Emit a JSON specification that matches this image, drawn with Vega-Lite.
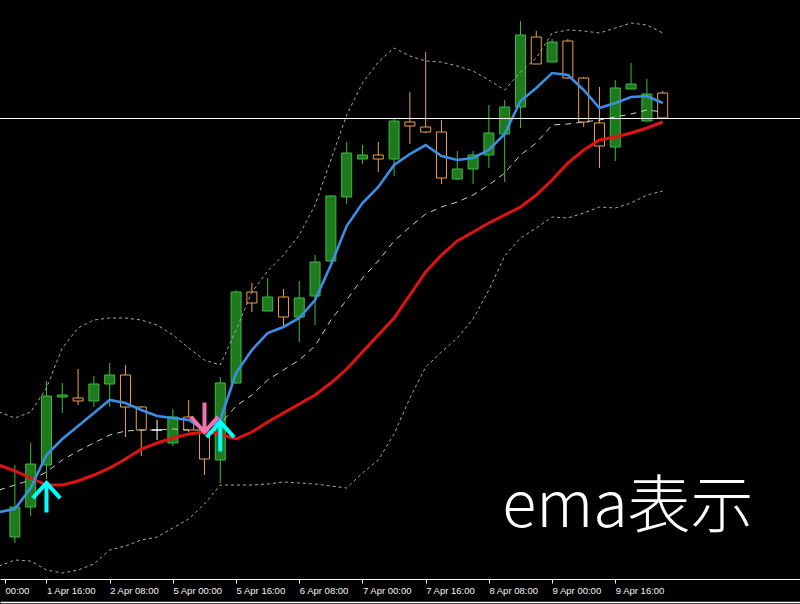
{
  "$schema": "https://vega.github.io/schema/vega-lite/v6.json",
  "width": 800,
  "height": 579,
  "autosize": {"type": "none"},
  "padding": {"left": 0, "top": 0, "right": 0, "bottom": 25},
  "background": "#000000",
  "config": {"view": {"stroke": null}},
  "datasets": {
    "candles": [
      {"i":0,"open":41,"close":71,"high":113,"low":35,"dir":"up"},
      {"i":1,"open":71,"close":114,"high":135,"low":62,"dir":"up"},
      {"i":2,"open":113,"close":182,"high":197,"low":99,"dir":"up"},
      {"i":3,"open":181,"close":183,"high":195,"low":165,"dir":"up"},
      {"i":4,"open":180,"close":177,"high":209,"low":173,"dir":"down"},
      {"i":5,"open":177,"close":194,"high":202,"low":171,"dir":"up"},
      {"i":6,"open":194,"close":203,"high":215,"low":171,"dir":"up"},
      {"i":7,"open":203,"close":171,"high":213,"low":141,"dir":"down"},
      {"i":8,"open":171,"close":148,"high":172,"low":122,"dir":"down"},
      {"i":9,"open":148,"close":148,"high":158,"low":138,"dir":"doji"},
      {"i":10,"open":135,"close":161,"high":169,"low":132,"dir":"up"},
      {"i":11,"open":161,"close":148,"high":178,"low":146,"dir":"down"},
      {"i":12,"open":147,"close":119,"high":153,"low":103,"dir":"down"},
      {"i":13,"open":118,"close":195,"high":201,"low":95,"dir":"up"},
      {"i":14,"open":195,"close":286,"high":288,"low":194,"dir":"up"},
      {"i":15,"open":286,"close":275,"high":295,"low":266,"dir":"down"},
      {"i":16,"open":267,"close":281,"high":300,"low":267,"dir":"up"},
      {"i":17,"open":281,"close":261,"high":289,"low":251,"dir":"down"},
      {"i":18,"open":261,"close":280,"high":297,"low":236,"dir":"up"},
      {"i":19,"open":282,"close":316,"high":323,"low":253,"dir":"up"},
      {"i":20,"open":317,"close":382,"high":383,"low":316,"dir":"up"},
      {"i":21,"open":381,"close":425,"high":436,"low":374,"dir":"up"},
      {"i":22,"open":419,"close":423,"high":433,"low":414,"dir":"up"},
      {"i":23,"open":423,"close":419,"high":436,"low":406,"dir":"down"},
      {"i":24,"open":419,"close":457,"high":460,"low":402,"dir":"up"},
      {"i":25,"open":456,"close":452,"high":486,"low":434,"dir":"down"},
      {"i":26,"open":451,"close":446,"high":526,"low":445,"dir":"down"},
      {"i":27,"open":446,"close":400,"high":458,"low":394,"dir":"down"},
      {"i":28,"open":399,"close":409,"high":427,"low":398,"dir":"up"},
      {"i":29,"open":409,"close":423,"high":427,"low":394,"dir":"up"},
      {"i":30,"open":423,"close":445,"high":473,"low":410,"dir":"up"},
      {"i":31,"open":444,"close":471,"high":478,"low":396,"dir":"up"},
      {"i":32,"open":471,"close":543,"high":557,"low":450,"dir":"up"},
      {"i":33,"open":541,"close":514,"high":547,"low":514,"dir":"down"},
      {"i":34,"open":516,"close":536,"high":539,"low":516,"dir":"up"},
      {"i":35,"open":537,"close":500,"high":539,"low":499,"dir":"down"},
      {"i":36,"open":500,"close":456,"high":501,"low":451,"dir":"down"},
      {"i":37,"open":455,"close":432,"high":491,"low":410,"dir":"down"},
      {"i":38,"open":431,"close":490,"high":498,"low":417,"dir":"up"},
      {"i":39,"open":489,"close":494,"high":515,"low":489,"dir":"up"},
      {"i":40,"open":457,"close":484,"high":499,"low":457,"dir":"up"},
      {"i":41,"open":485,"close":460,"high":487,"low":460,"dir":"down"}
    ],
    "lines": [
      {"i":-1,"fast":66,"slow":113,"mid":88,"up":166,"lo":12},
      {"i":0,"fast":69,"slow":107,"mid":93,"up":160,"lo":18},
      {"i":1,"fast":90,"slow":100,"mid":98,"up":166,"lo":17},
      {"i":2,"fast":123,"slow":93,"mid":106,"up":190,"lo":8},
      {"i":3,"fast":139,"slow":93,"mid":118,"up":230,"lo":5},
      {"i":4,"fast":152,"slow":97,"mid":127,"up":250,"lo":8},
      {"i":5,"fast":165,"slow":103,"mid":135,"up":258,"lo":14},
      {"i":6,"fast":178,"slow":110,"mid":143,"up":260,"lo":28},
      {"i":7,"fast":175,"slow":119,"mid":147,"up":260,"lo":32},
      {"i":8,"fast":168,"slow":129,"mid":148,"up":258,"lo":38},
      {"i":9,"fast":162,"slow":135,"mid":148,"up":253,"lo":41},
      {"i":10,"fast":160,"slow":140,"mid":149,"up":243,"lo":50},
      {"i":11,"fast":158,"slow":144,"mid":148,"up":230,"lo":59},
      {"i":12,"fast":148,"slow":146,"mid":148,"up":218,"lo":74},
      {"i":13,"fast":158,"slow":144,"mid":154,"up":213,"lo":93},
      {"i":14,"fast":205,"slow":139,"mid":172,"up":248,"lo":93},
      {"i":15,"fast":228,"slow":146,"mid":183,"up":286,"lo":93},
      {"i":16,"fast":245,"slow":156,"mid":198,"up":307,"lo":94},
      {"i":17,"fast":251,"slow":165,"mid":208,"up":323,"lo":96},
      {"i":18,"fast":260,"slow":174,"mid":218,"up":343,"lo":95},
      {"i":19,"fast":278,"slow":183,"mid":232,"up":373,"lo":94},
      {"i":20,"fast":313,"slow":195,"mid":258,"up":418,"lo":92},
      {"i":21,"fast":352,"slow":209,"mid":278,"up":463,"lo":90},
      {"i":22,"fast":375,"slow":226,"mid":300,"up":495,"lo":105},
      {"i":23,"fast":391,"slow":243,"mid":317,"up":516,"lo":118},
      {"i":24,"fast":413,"slow":260,"mid":337,"up":530,"lo":144},
      {"i":25,"fast":424,"slow":283,"mid":351,"up":522,"lo":180},
      {"i":26,"fast":433,"slow":306,"mid":364,"up":517,"lo":211},
      {"i":27,"fast":422,"slow":323,"mid":371,"up":516,"lo":226},
      {"i":28,"fast":418,"slow":337,"mid":376,"up":512,"lo":240},
      {"i":29,"fast":420,"slow":346,"mid":383,"up":507,"lo":259},
      {"i":30,"fast":428,"slow":355,"mid":393,"up":498,"lo":288},
      {"i":31,"fast":444,"slow":363,"mid":405,"up":488,"lo":322},
      {"i":32,"fast":477,"slow":371,"mid":423,"up":506,"lo":340},
      {"i":33,"fast":490,"slow":383,"mid":435,"up":520,"lo":350},
      {"i":34,"fast":505,"slow":398,"mid":453,"up":545,"lo":361},
      {"i":35,"fast":503,"slow":415,"mid":454,"up":548,"lo":360},
      {"i":36,"fast":488,"slow":428,"mid":456,"up":547,"lo":365},
      {"i":37,"fast":470,"slow":438,"mid":458,"up":545,"lo":371},
      {"i":38,"fast":475,"slow":441,"mid":461,"up":550,"lo":370},
      {"i":39,"fast":481,"slow":445,"mid":464,"up":555,"lo":375},
      {"i":40,"fast":482,"slow":450,"mid":468,"up":553,"lo":383},
      {"i":41,"fast":475,"slow":456,"mid":466,"up":545,"lo":387}
    ],
    "signals": [
      {"i":2,"price":95,"kind":"buy"},
      {"i":13,"price":156,"kind":"buy"},
      {"i":12,"price":146,"kind":"sell"}
    ],
    "last": [{"price":459.5}],
    "notes": [{"label":"ema表示","i":30.85,"price":51}]
  },
  "resolve": {"axis": {"x": "independent"}},
  "layer": [
    {
      "data": {"name": "candles"},
      "mark": {"type": "rule", "strokeWidth": 1},
      "encoding": {
        "x": {
          "field": "i",
          "type": "quantitative",
          "scale": {"domain": [-0.625, 49.375], "nice": false, "zero": false},
          "axis": {
            "values": [-0.62, 2, 6, 10, 14, 18, 22, 26, 30, 34, 38],
            "labelExpr": "datum.value < 0 ? '00:00' : ['1 Apr 16:00','2 Apr 08:00','5 Apr 00:00','5 Apr 16:00','6 Apr 08:00','7 Apr 00:00','7 Apr 16:00','8 Apr 08:00','9 Apr 00:00','9 Apr 16:00'][round((datum.value-2)/4)]",
            "title": null,
            "grid": false,
            "domainColor": "#ffffff",
            "domainWidth": 1,
            "tickColor": "#ffffff",
            "tickSize": 4,
            "tickWidth": 1,
            "labelColor": "#f4f4f4",
            "labelFont": "Liberation Sans",
            "labelFontSize": 9.5,
            "labelAlign": "left",
            "labelBaseline": "top",
            "labelDx": 1,
            "labelPadding": 2,
            "labelBound": false,
            "labelFlush": false,
            "labelOverlap": false
          }
        },
        "y": {"field": "high", "type": "quantitative", "scale": {"domain": [-1, 578], "nice": false, "zero": false}, "axis": null},
        "y2": {"field": "low"},
        "color": {
          "field": "dir",
          "type": "nominal",
          "scale": {"domain": ["up", "down", "doji"], "range": ["#3cbc3c", "#eda24a", "#ffffff"]},
          "legend": null
        }
      }
    },
    {
      "data": {"name": "candles"},
      "mark": {"type": "bar", "width": 10, "strokeWidth": 1, "orient": "vertical"},
      "encoding": {
        "x": {"field": "i", "type": "quantitative", "scale": {"domain": [-0.625, 49.375], "nice": false, "zero": false}, "axis": null},
        "y": {"field": "open", "type": "quantitative", "scale": {"domain": [-1, 578], "nice": false, "zero": false}, "axis": null},
        "y2": {"field": "close"},
        "fill": {
          "field": "dir",
          "type": "nominal",
          "scale": {"domain": ["up", "down", "doji"], "range": ["#1f7a1f", "#000000", "#ffffff"]},
          "legend": null
        },
        "stroke": {
          "field": "dir",
          "type": "nominal",
          "scale": {"domain": ["up", "down", "doji"], "range": ["#3cbc3c", "#eda24a", "#ffffff"]},
          "legend": null
        }
      }
    },
    {
      "data": {"name": "lines"},
      "mark": {"type": "line", "color": "#a8a8a8", "strokeWidth": 1, "strokeDash": [3, 3], "clip": true},
      "encoding": {
        "x": {"field": "i", "type": "quantitative", "scale": {"domain": [-0.625, 49.375], "nice": false, "zero": false}, "axis": null},
        "y": {"field": "up", "type": "quantitative", "scale": {"domain": [-1, 578], "nice": false, "zero": false}, "axis": null}
      }
    },
    {
      "data": {"name": "lines"},
      "mark": {"type": "line", "color": "#a8a8a8", "strokeWidth": 1, "strokeDash": [3, 3], "clip": true},
      "encoding": {
        "x": {"field": "i", "type": "quantitative", "scale": {"domain": [-0.625, 49.375], "nice": false, "zero": false}, "axis": null},
        "y": {"field": "lo", "type": "quantitative", "scale": {"domain": [-1, 578], "nice": false, "zero": false}, "axis": null}
      }
    },
    {
      "data": {"name": "lines"},
      "mark": {"type": "line", "color": "#cfcfcf", "strokeWidth": 1, "strokeDash": [6, 5], "clip": true},
      "encoding": {
        "x": {"field": "i", "type": "quantitative", "scale": {"domain": [-0.625, 49.375], "nice": false, "zero": false}, "axis": null},
        "y": {"field": "mid", "type": "quantitative", "scale": {"domain": [-1, 578], "nice": false, "zero": false}, "axis": null}
      }
    },
    {
      "data": {"name": "lines"},
      "mark": {"type": "line", "color": "#e01212", "strokeWidth": 3, "clip": true},
      "encoding": {
        "x": {"field": "i", "type": "quantitative", "scale": {"domain": [-0.625, 49.375], "nice": false, "zero": false}, "axis": null},
        "y": {"field": "slow", "type": "quantitative", "scale": {"domain": [-1, 578], "nice": false, "zero": false}, "axis": null}
      }
    },
    {
      "data": {"name": "lines"},
      "mark": {"type": "line", "color": "#3a8ee6", "strokeWidth": 2.6, "clip": true},
      "encoding": {
        "x": {"field": "i", "type": "quantitative", "scale": {"domain": [-0.625, 49.375], "nice": false, "zero": false}, "axis": null},
        "y": {"field": "fast", "type": "quantitative", "scale": {"domain": [-1, 578], "nice": false, "zero": false}, "axis": null}
      }
    },
    {
      "data": {"name": "last"},
      "mark": {"type": "rule", "color": "#ffffff", "strokeWidth": 1},
      "encoding": {
        "y": {"field": "price", "type": "quantitative", "scale": {"domain": [-1, 578], "nice": false, "zero": false}, "axis": null}
      }
    },
    {
      "data": {"name": "signals"},
      "transform": [{"filter": "datum.kind == 'buy'"}],
      "mark": {"type": "point", "filled": false, "strokeWidth": 4, "size": 870, "opacity": 1, "strokeCap": "butt", "color": "#00ffff", "shape": "M0,0L0,2M-0.93,1.03L0,0L0.93,1.03"},
      "encoding": {
        "x": {"field": "i", "type": "quantitative", "scale": {"domain": [-0.625, 49.375], "nice": false, "zero": false}, "axis": null},
        "y": {"field": "price", "type": "quantitative", "scale": {"domain": [-1, 578], "nice": false, "zero": false}, "axis": null}
      }
    },
    {
      "data": {"name": "signals"},
      "transform": [{"filter": "datum.kind == 'sell'"}],
      "mark": {"type": "point", "filled": false, "strokeWidth": 4, "size": 870, "opacity": 1, "strokeCap": "butt", "color": "#f272b0", "shape": "M0,0L0,-2M-0.93,-1.03L0,0L0.93,-1.03"},
      "encoding": {
        "x": {"field": "i", "type": "quantitative", "scale": {"domain": [-0.625, 49.375], "nice": false, "zero": false}, "axis": null},
        "y": {"field": "price", "type": "quantitative", "scale": {"domain": [-1, 578], "nice": false, "zero": false}, "axis": null}
      }
    },
    {
      "data": {"name": "notes"},
      "mark": {"type": "text", "font": "Noto Sans CJK JP", "fontSize": 63, "fontWeight": 300, "color": "#ffffff", "align": "left", "baseline": "alphabetic"},
      "encoding": {
        "text": {"field": "label"},
        "x": {
          "field": "i",
          "type": "quantitative",
          "scale": {"domain": [-0.625, 49.375], "nice": false, "zero": false},
          "axis": {"orient": "bottom", "offset": 23, "labels": false, "ticks": true, "tickSize": 0, "values": [0], "grid": false, "title": null, "domain": true, "domainColor": "#ffffff", "domainWidth": 1.5}
        },
        "y": {"field": "price", "type": "quantitative", "scale": {"domain": [-1, 578], "nice": false, "zero": false}, "axis": null}
      }
    }
  ]
}
